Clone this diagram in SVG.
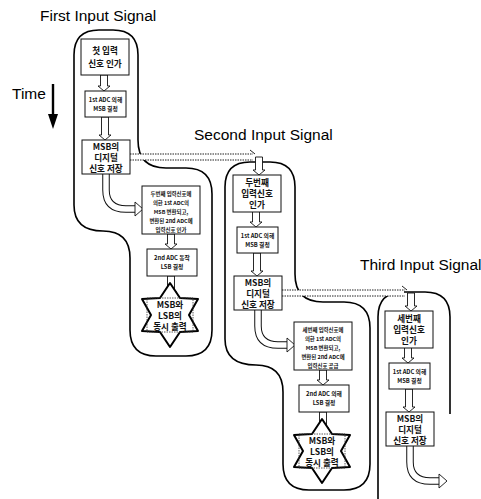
<svg xmlns="http://www.w3.org/2000/svg" width="481" height="499" viewBox="0 0 481 499">
<style>
.lbl{font-family:"Liberation Sans",Arial,sans-serif;font-size:15.5px;fill:#000}
.k{font-family:"Noto Sans CJK KR","Noto Sans",sans-serif;font-weight:bold;fill:#111;text-anchor:middle}
.f1{font-size:8.6px}
.f2{font-size:5.8px}
.f3{font-size:5.4px}
.box{fill:#fff;stroke:#111;stroke-width:1}
.outl{fill:none;stroke:#000;stroke-width:1.6}
.ba{fill:#fff;stroke:#111;stroke-width:0.9}
.bo{fill:none;stroke:#111;stroke-width:7.5}
.bi{fill:none;stroke:#fff;stroke-width:5.5}
.dot{fill:none;stroke:#222;stroke-width:1;stroke-dasharray:1.5 1}
.star{fill:#fff;stroke:#000;stroke-width:2;stroke-linejoin:round}
.irect{fill:none;stroke:#333;stroke-width:0.8;stroke-dasharray:1.5 1}
</style>
<rect width="481" height="499" fill="#fff"/>
<g id="labels">
<text class="lbl" x="40" y="21">First Input Signal</text>
<text class="lbl" x="194" y="140">Second Input Signal</text>
<text class="lbl" x="360" y="270">Third Input Signal</text>
<text class="lbl" x="12" y="99">Time</text>
</g>
<g id="time-arrow">
<line x1="53" y1="84" x2="53" y2="116" stroke="#000" stroke-width="2.4"/>
<polygon points="48,114 58,114 53,129" fill="#000"/>
</g>
<g id="outlines">
<path id="col1-outline" class="outl" d="M74 55 Q74 30 99 30 L113 30 Q138 30 138 55 L138 140 Q138 168 166 168 L186 168 Q212 168 212 194 L212 330 Q212 356 186 356 L156 356 Q130 356 130 330 L130 258 Q130 231 103 231 Q74 231 74 205 Z"/>
<path id="col2-outline" class="outl" d="M225 187 Q225 162 250 162 L270 162 Q295 162 295 187 L295 274 Q295 302 323 302 L344 302 Q370 302 370 328 L370 464 Q370 490 344 490 L309 490 Q283 490 283 464 L283 392 Q283 365 256 365 Q225 365 225 339 Z"/>
<path id="col3-outline" class="outl" d="M378 502 L378 317 Q378 292 403 292 L425 292 Q450 292 450 317 L450 414"/>
</g>
<g id="connectors">
<g>
<path class="ba" d="M100.5 75 V86 H98 L104 91 L110 86 H107.5 V75 Z"/>
<path class="ba" d="M101.5 117 V135 H99 L105 140 L111 135 H108.5 V117 Z"/>
<path class="bo" d="M106 174 V190 Q106 209 126 209 L137 209"/>
<path class="bi" d="M106 173 V190 Q106 209 126 209 L137 209"/>
<polygon class="ba" points="135,202 143,209 135,216"/>
<path class="ba" d="M167.5 234 V244 H165 L171 249 L177 244 H174.5 V234 Z"/>
<path class="ba" d="M167.5 276 V292 H165 L171 297 L177 292 H174.5 V276 Z"/>
</g>
<g transform="translate(152,136)">
<path class="ba" d="M100.5 75 V86 H98 L104 91 L110 86 H107.5 V75 Z"/>
<path class="ba" d="M101.5 117 V135 H99 L105 140 L111 135 H108.5 V117 Z"/>
<path class="bo" d="M106 174 V190 Q106 209 126 209 L137 209"/>
<path class="bi" d="M106 173 V190 Q106 209 126 209 L137 209"/>
<polygon class="ba" points="135,202 143,209 135,216"/>
<path class="ba" d="M167.5 234 V244 H165 L171 249 L177 244 H174.5 V234 Z"/>
<path class="ba" d="M167.5 276 V292 H165 L171 297 L177 292 H174.5 V276 Z"/>
</g>
<g transform="translate(304,272)">
<path class="ba" d="M100.5 75 V86 H98 L104 91 L110 86 H107.5 V75 Z"/>
<path class="ba" d="M101.5 117 V135 H99 L105 140 L111 135 H108.5 V117 Z"/>
<path class="bo" d="M106 174 V190 Q106 209 126 209 L137 209"/>
<path class="bi" d="M106 173 V190 Q106 209 126 209 L137 209"/>
<polygon class="ba" points="135,202 143,209 135,216"/>
</g>
<g id="c1-c2">
<rect x="130" y="154" width="122" height="6" fill="#fff"/>
<line class="dot" x1="130" y1="154" x2="253" y2="154"/>
<line class="dot" x1="130" y1="160" x2="253" y2="160"/>
<path fill="none" stroke="#222" stroke-width="1" d="M250 150 L255 154"/>
<path class="ba" d="M255.5 157 V170 H253 L259 175 L265 170 H262.5 V157 Z"/>
</g>
<g id="c2-c3">
<rect x="282" y="290" width="122" height="6" fill="#fff"/>
<line class="dot" x1="282" y1="290" x2="405" y2="290"/>
<line class="dot" x1="282" y1="296" x2="405" y2="296"/>
<path fill="none" stroke="#222" stroke-width="1" d="M402 286 L407 290"/>
<path class="ba" d="M407.5 293 V306 H405 L411 311 L417 306 H414.5 V293 Z"/>
</g>
</g>
<g id="n1a"><rect class="box" x="81" y="39" width="48" height="36"/>
<text class="k f1" x="105" y="54">첫 입력</text><text class="k f1" x="105" y="67">신호 인가</text></g>
<g id="n1b"><rect class="box" x="85" y="91" width="41" height="26"/>
<text class="k f2" x="105.5" y="102">1st ADC 의해</text><text class="k f2" x="105.5" y="111">MSB 결정</text></g>
<g id="n1c"><rect class="box" x="82" y="140" width="48" height="34"/>
<text class="k f1" x="106" y="150">MSB의</text><text class="k f1" x="106" y="161">디지털</text><text class="k f1" x="106" y="172">신호 저장</text></g>
<g id="n1d"><rect class="box" x="142" y="186" width="58" height="48"/>
<text class="k f3" x="171" y="196">두번째 입력신호에</text><text class="k f3" x="171" y="205">의한 1st ADC의</text><text class="k f3" x="171" y="214">MSB 변환되고,</text><text class="k f3" x="171" y="223">변환된 2nd ADC에</text><text class="k f3" x="171" y="232">입력신호 인가</text></g>
<g id="n1e"><rect class="box" x="147" y="249" width="50" height="27"/>
<text class="k f2" x="172" y="260">2nd ADC 동작</text><text class="k f2" x="172" y="269">LSB 결정</text></g>
<g id="n1f"><polygon class="star" points="170,283 180,298 198,299 189,315 198,331 180,332 170,347 160,332 142,331 151,315 142,299 160,298"/>
<rect class="irect" x="147" y="298" width="46" height="34"/>
<text class="k f1" x="170" y="308">MSB와</text><text class="k f1" x="170" y="319">LSB의</text><text class="k f1" x="170" y="330">동시 출력</text></g>
<g id="n2a"><rect class="box" x="233" y="175" width="48" height="37"/>
<text class="k f1" x="257" y="186">두번째</text><text class="k f1" x="257" y="197">입력신호</text><text class="k f1" x="257" y="208">인가</text></g>
<g id="n2b"><rect class="box" x="237" y="227" width="41" height="26"/>
<text class="k f2" x="257.5" y="238">1st ADC 의해</text><text class="k f2" x="257.5" y="247">MSB 결정</text></g>
<g id="n2c"><rect class="box" x="234" y="276" width="48" height="34"/>
<text class="k f1" x="258" y="286">MSB의</text><text class="k f1" x="258" y="297">디지털</text><text class="k f1" x="258" y="308">신호 저장</text></g>
<g id="n2d"><rect class="box" x="294" y="322" width="58" height="48"/>
<text class="k f3" x="323" y="332">세번째 입력신호에</text><text class="k f3" x="323" y="341">의한 1st ADC의</text><text class="k f3" x="323" y="350">MSB 변환되고,</text><text class="k f3" x="323" y="359">변환된 2nd ADC에</text><text class="k f3" x="323" y="368">입력신호 공급</text></g>
<g id="n2e"><rect class="box" x="299" y="385" width="50" height="27"/>
<text class="k f2" x="324" y="396">2nd ADC 의해</text><text class="k f2" x="324" y="405">LSB 결정</text></g>
<g id="n2f"><polygon class="star" points="322,419 332,434 350,435 341,451 350,467 332,468 322,483 312,468 294,467 303,451 294,435 312,434"/>
<rect class="irect" x="299" y="434" width="46" height="34"/>
<text class="k f1" x="322" y="444">MSB와</text><text class="k f1" x="322" y="455">LSB의</text><text class="k f1" x="322" y="466">동시 출력</text></g>
<g id="n3a"><rect class="box" x="385" y="311" width="48" height="37"/>
<text class="k f1" x="409" y="322">세번째</text><text class="k f1" x="409" y="333">입력신호</text><text class="k f1" x="409" y="344">인가</text></g>
<g id="n3b"><rect class="box" x="389" y="363" width="41" height="26"/>
<text class="k f2" x="409.5" y="374">1st ADC 의해</text><text class="k f2" x="409.5" y="383">MSB 결정</text></g>
<g id="n3c"><rect class="box" x="386" y="412" width="48" height="34"/>
<text class="k f1" x="410" y="422">MSB의</text><text class="k f1" x="410" y="433">디지털</text><text class="k f1" x="410" y="444">신호 저장</text></g>
</svg>
